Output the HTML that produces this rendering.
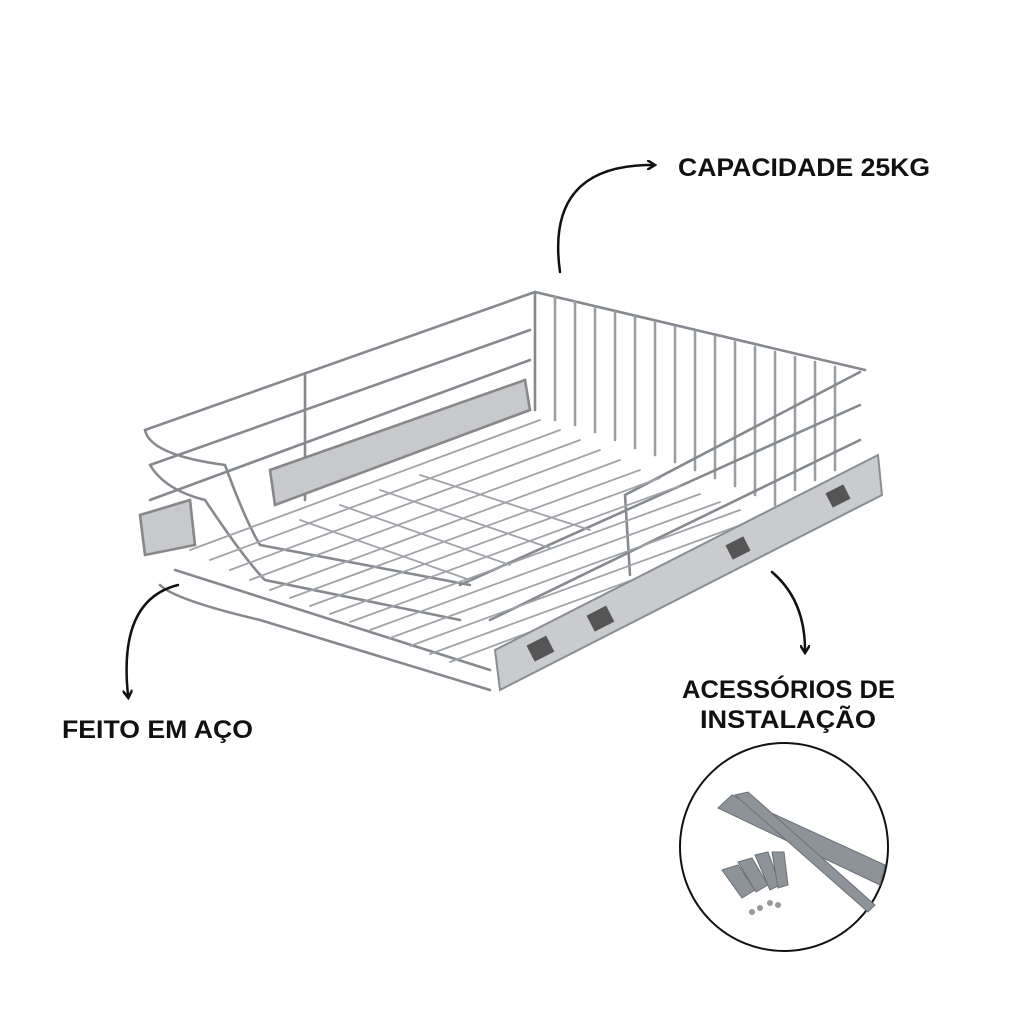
<!DOCTYPE html>
<html><head><meta charset="utf-8"><style>
body{margin:0;background:#fff;width:1024px;height:1024px;overflow:hidden}
svg{display:block}
text{font-family:"Liberation Sans",sans-serif;font-weight:bold;fill:#111}
</style></head><body>
<svg width="1024" height="1024" viewBox="0 0 1024 1024">
<defs><marker id="ah" markerWidth="10" markerHeight="10" refX="5" refY="5" orient="auto" markerUnits="userSpaceOnUse"><path d="M0,0 L8,5 L0,10" fill="none" stroke="#111" stroke-width="2.5"/></marker></defs>
<g fill="none" stroke="#868a8f" stroke-width="2.6" stroke-linecap="round">
<path d="M145,430 L535,292 L865,370"/>
<path d="M150,465 L530,330"/>
<path d="M150,500 L530,360"/>
<path d="M535,292 L535,410"/>
<path d="M305,375 L305,500"/>
<g stroke="#9a9da2">
<path d="M555,297 L555,420 M575,302 L575,425 M595,307 L595,432 M615,312 L615,440 M635,317 L635,448 M655,322 L655,455 M675,327 L675,462 M695,332 L695,470 M715,337 L715,478 M735,342 L735,486 M755,347 L755,495 M775,352 L775,505 M795,357 L795,490 M815,362 L815,480 M835,367 L835,470"/>
</g>
<path d="M860,372 L625,495 L630,575"/>
<path d="M860,405 L460,585"/>
<path d="M860,440 L490,620"/>
<path d="M145,430 Q150,455 225,465 Q245,520 260,545 L470,585"/>
<path d="M150,465 Q165,490 205,500 Q245,560 265,580 L460,620"/>
<path d="M160,585 Q175,600 260,620 L490,690"/>
<path d="M175,570 L490,670"/>
<g stroke="#a0a3a8" stroke-width="1.8">
<path d="M190,550 L540,420 M210,560 L560,430 M230,570 L580,440 M250,580 L600,450 M270,590 L620,460 M290,598 L640,470 M310,606 L660,478 M330,614 L680,486 M350,622 L700,494 M370,630 L720,502 M390,638 L740,510 M410,646 L760,518 M430,654 L780,526 M450,662 L790,535"/>
<path d="M300,520 L470,580 M340,505 L510,565 M380,490 L550,548 M420,475 L590,530"/>
</g>
<path d="M270,470 L525,380 L530,410 L275,505 Z" fill="#c7c9cc" stroke="#888"/>
<path d="M140,515 L190,500 L195,545 L145,555 Z" fill="#c7c9cc" stroke="#888"/>
</g>
<path d="M495,650 L878,455 L882,495 L500,690 Z" fill="#c9cbce" stroke="#8a8d92" stroke-width="2"/>
<g fill="#555"><rect x="530" y="640" width="22" height="18" transform="rotate(-27 540 650)"/><rect x="590" y="610" width="22" height="18" transform="rotate(-27 600 620)"/><rect x="728" y="540" width="20" height="16" transform="rotate(-27 738 548)"/><rect x="828" y="488" width="20" height="16" transform="rotate(-27 838 496)"/></g>
<g fill="none" stroke="#111" stroke-width="2.5" stroke-linecap="round">
<path d="M560,272 Q545,165 652,165" marker-end="url(#ah)"/>
<path d="M178,585 Q118,600 128,695" marker-end="url(#ah)"/>
<path d="M772,572 Q805,600 805,650" marker-end="url(#ah)"/>
</g>
<text x="678" y="176" font-size="25" textLength="252" lengthAdjust="spacingAndGlyphs">CAPACIDADE 25KG</text>
<text x="62" y="738" font-size="25" textLength="191" lengthAdjust="spacingAndGlyphs">FEITO EM AÇO</text>
<text x="682" y="698" font-size="25" textLength="213" lengthAdjust="spacingAndGlyphs">ACESSÓRIOS DE</text>
<text x="700" y="728" font-size="25" textLength="176" lengthAdjust="spacingAndGlyphs">INSTALAÇÃO</text>
<circle cx="784" cy="847" r="104" fill="#fff" stroke="#111" stroke-width="2"/>
<g fill="#8d9398" stroke="#6c7175" stroke-width="1">
<path d="M718,808 L732,795 L885,865 L880,885 Z"/>
<path d="M735,795 L748,792 L875,905 L868,912 Z"/>
<path d="M722,870 L738,865 L755,890 L742,898 Z"/><path d="M738,862 L752,858 L768,885 L756,892 Z"/><path d="M755,855 L768,852 L780,885 L770,890 Z"/><path d="M772,852 L784,852 L788,885 L778,888 Z"/>
</g>
<g fill="#999"><circle cx="752" cy="912" r="3"/><circle cx="760" cy="908" r="3"/><circle cx="770" cy="903" r="3"/><circle cx="778" cy="905" r="3"/></g>
</svg>
</body></html>
